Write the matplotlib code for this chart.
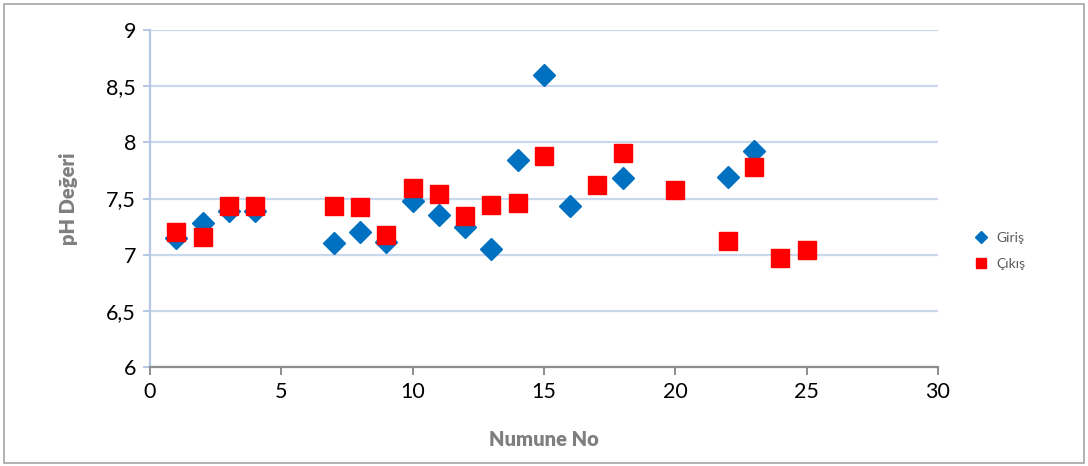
import matplotlib
matplotlib.use("Agg")
import matplotlib.pyplot as plt
from matplotlib.patches import Rectangle
from matplotlib.lines import Line2D

# Sample numbers and pH readings
giris_x = [1, 2, 3, 4, 7, 8, 9, 10, 11, 12, 13, 14, 15, 16, 18, 22, 23]
giris_ph = [7.15, 7.28, 7.385, 7.39, 7.10, 7.20, 7.11, 7.48, 7.35, 7.25, 7.05,
            7.84, 8.595, 7.43, 7.68, 7.69, 7.92]

cikis_x = [1, 2, 3, 4, 7, 8, 9, 10, 11, 12, 13, 14, 15, 17, 18, 20, 22, 23, 24, 25]
cikis_ph = [7.20, 7.16, 7.43, 7.43, 7.43, 7.42, 7.175, 7.59, 7.54, 7.34, 7.44,
            7.46, 7.88, 7.62, 7.905, 7.575, 7.12, 7.78, 6.97, 7.04]

x_ticks = [0, 5, 10, 15, 20, 25, 30]
y_ticks = [6, 6.5, 7, 7.5, 8, 8.5, 9]
y_tick_labels = ["6", "6,5", "7", "7,5", "8", "8,5", "9"]

plt.rcParams["font.family"] = ["Lato", "DejaVu Sans"]

fig = plt.figure(figsize=(10.88, 4.66), dpi=100)
ax = fig.add_axes([150 / 1088, 1 - 367 / 466, (938 - 150) / 1088, (367 - 30) / 466])

# outer frame
fig.patches.append(Rectangle((4 / 1088, 3 / 466), 1080 / 1088, 459 / 466,
                             transform=fig.transFigure, fill=False,
                             edgecolor="#a6a6a6", linewidth=1.2))

ax.set_xlim(0, 30)
ax.set_ylim(6, 9)
ax.set_xticks(x_ticks)
ax.set_yticks(y_ticks)
ax.set_yticklabels(y_tick_labels)

ax.grid(axis="y", color="#c9d8ed", linewidth=1.6)
ax.set_axisbelow(True)

for s in ("top", "right"):
    ax.spines[s].set_visible(False)
ax.spines["left"].set_color("#b4c7e7")
ax.spines["left"].set_linewidth(1.6)
ax.spines["bottom"].set_color("#8c8c8c")
ax.spines["bottom"].set_linewidth(1.6)

ax.tick_params(axis="x", direction="out", length=6, width=1.4, color="#8c8c8c",
               labelsize=15.5, pad=5)
ax.tick_params(axis="y", direction="out", length=5, width=1.4, color="#b4c7e7",
               labelsize=15.5, pad=5)

ax.plot(giris_x, giris_ph, linestyle="none", marker="D", markersize=11,
        color="#0070c0", label="Giriş", zorder=3)
ax.plot(cikis_x, cikis_ph, linestyle="none", marker="s", markersize=13.5,
        color="#ff0000", label="Çıkış", zorder=4)

ax.set_xlabel("Numune No", fontsize=14.5, fontweight="heavy", color="#7f7f7f", labelpad=20)
ax.set_ylabel("pH Değeri", fontsize=14.5, fontweight="heavy", color="#7f7f7f", labelpad=20)

handles = [
    Line2D([], [], linestyle="none", marker="D", markersize=6, color="#0070c0"),
    Line2D([], [], linestyle="none", marker="s", markersize=7, color="#ff0000"),
]
fig.legend(handles, ["Giriş", "Çıkış"], loc="center left",
           bbox_to_anchor=(960 / 1088, 1 - 251 / 466), frameon=False,
           fontsize=10, labelcolor="#595959", handletextpad=0.5, labelspacing=1.0,
           handlelength=1.2)

fig.savefig("out.png", dpi=100)
